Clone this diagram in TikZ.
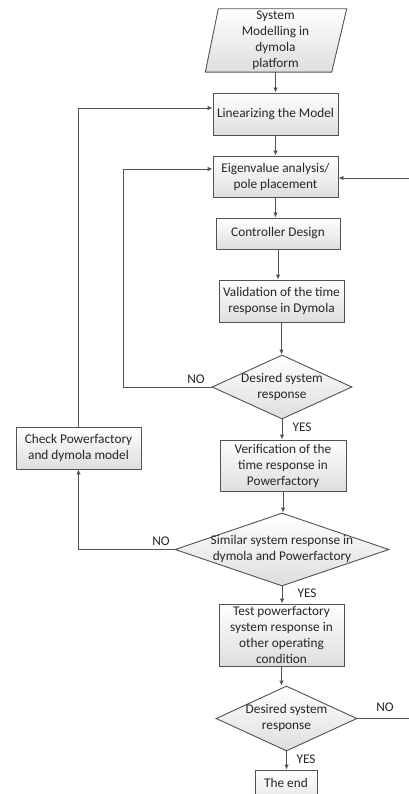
\documentclass[tikz,border=0pt]{standalone}
\usepackage{fontspec}
\setmainfont{Carlito}
\usetikzlibrary{shapes.geometric,arrows.meta,backgrounds}
\colorlet{lineclr}{black!68}
\tikzset{
    proc/.style={draw=lineclr, line width=0.9pt, top color=white, bottom color=black!13,
        align=center, inner sep=2pt},
    dec/.style={diamond, draw=lineclr, line width=0.9pt, top color=white, bottom color=black!13,
        inner sep=0pt, aspect=2},
    iobox/.style={draw=lineclr, line width=0.9pt, top color=white, bottom color=black!13},
    txt/.style={align=center, inner sep=0pt},
    arr/.style={draw=lineclr, line width=0.9pt, -{Latex[length=5pt,width=4.5pt]}},
    lbl/.style={inner sep=0pt}
}
\begin{document}
\begin{tikzpicture}[x=1pt, y=-1pt, font=\fontsize{13.3}{16}\selectfont, text=black!85]
    \useasboundingbox (0,0) rectangle (409,794);

    % Input block (parallelogram)
    \node[txt, minimum width=128pt, minimum height=63pt] (sys) at (275.5,40.5) {System\\Modelling in\\dymola\\platform};
    \begin{scope}[on background layer]
        \draw[iobox] ([xshift=7pt]sys.north west) -- ([xshift=7pt]sys.north east)
            -- ([xshift=-8pt]sys.south east) -- ([xshift=-6pt]sys.south west) -- cycle;
    \end{scope}

    % Process boxes
    \node[proc, minimum width=125pt, minimum height=42pt] (lin) at (275.5,114) {Linearizing the Model};
    \node[proc, minimum width=125pt, minimum height=41pt] (eig) at (275.5,176.5) {Eigenvalue analysis/\\pole placement};
    \node[proc, minimum width=124pt, minimum height=31pt] (ctl) at (278,233.5) {Controller Design};
    \node[proc, minimum width=125pt, minimum height=42pt] (val) at (281.5,301) {Validation of the time\\response in Dymola};
    \node[proc, minimum width=126pt, minimum height=51pt] (ver) at (283,465.5) {Verification of the\\time response in\\Powerfactory};
    \node[proc, minimum width=125pt, minimum height=42pt] (chk) at (78.5,448) {Check Powerfactory\\and dymola model};
    \node[proc, minimum width=125pt, minimum height=62pt] (tst) at (281.5,635) {Test powerfactory\\system response in\\other operating\\condition};
    \node[proc, minimum width=62pt, minimum height=42pt] (end) at (286,791) {};
    \node[txt] at (286,783) {The end};

    % Decisions
    \node[dec, minimum width=140pt, minimum height=64pt] (d1) at (282,387) {};
    \node[txt] at (d1) {Desired system\\response};
    \node[dec, minimum width=214pt, minimum height=73pt] (d2) at (282,549.5) {};
    \node[txt] at ([yshift=1pt]d2) {Similar system response in\\dymola and Powerfactory};
    \node[dec, minimum width=141pt, minimum height=65pt] (d3) at (286.5,718.5) {};
    \node[txt] at ([yshift=1pt]d3) {Desired system\\response};

    % Main flow
    \foreach \a/\b in {sys/lin, lin/eig, eig/ctl, ctl/val, val/d1, d1/ver, ver/d2, d2/tst, tst/d3, d3/end} {
        \draw[arr] (\a.south) -- (\a.south |- \b.north);
    }

    % Feedback loops
    \draw[arr] (d1.west) -| ([xshift=-89pt,yshift=7.5pt]eig.west) -- ([yshift=7.5pt]eig.west);
    \draw[arr] (chk.north) |- ([yshift=6pt]lin.west);
    \draw[arr] (d2.west) -| (chk.south);
    \coordinate (rin) at (409,178);
    \coordinate (rout) at (409,717);
    \draw[arr] (rin) -- (rin -| eig.east);
    \draw[draw=lineclr, line width=0.9pt] (d3.east) -- (d3.east -| rout);

    % Labels
    \node[lbl] at (196,379) {NO};
    \node[lbl] at (161,541) {NO};
    \node[lbl] at (385,707) {NO};
    \node[lbl] at (302,427) {YES};
    \node[lbl] at (307,593) {YES};
    \node[lbl] at (306,759) {YES};
\end{tikzpicture}
\end{document}
